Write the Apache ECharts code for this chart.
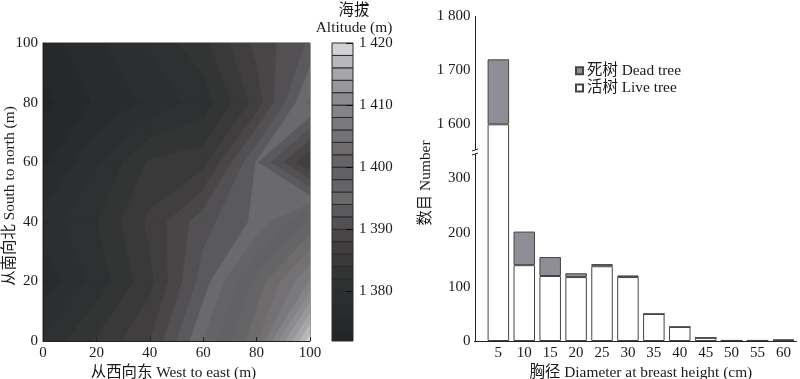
<!DOCTYPE html>
<html><head><meta charset="utf-8">
<style>html,body{margin:0;padding:0;background:#fff}#c{width:800px;height:379px}</style>
<script src="https://cdn.jsdelivr.net/npm/echarts@6/dist/echarts.min.js"></script>
</head><body><div id="c"></div>
<script>
const gridX=[0,20,40,60,80,100];
const gridY=[0,20,40,60,80,100];
const altRow0  =[1380.4,1384.25,1387.9,1396,1403.5,1419];
const altRow20 =[1376.8,1380.7,1385.4,1392.9,1400.7,1408.1];
const altRow40 =[1378.8,1381.9,1386.45,1391.2,1394.5,1400.3];
const altRow60 =[1375.5,1379.7,1384.3,1385.2,1394.1,1385.8];
const altRow80 =[1373.4,1376.3,1378.55,1380.8,1386.8,1396.5];
const altRow100=[1375,1377.5,1380.3,1383.4,1388.6,1392.3];
const altRows=[altRow0,altRow20,altRow40,altRow60,altRow80,altRow100];
const bandLevels=[1372,1374,1376,1378,1380,1382,1384,1386,1388,1390,1392,1394,1396,1398,1400,1402,1404,1406,1408,1410,1412,1414,1416,1418];
const bandColors=['#232528','#26282b','#292b2d','#2c2e2f','#2e3031','#333535','#393939','#403e3f','#494647','#525052','#5a5a5c','#6a6a6c','#646466','#626264','#656567','#6f6a6c','#737174','#7a7a7e','#848488','#8c8c90','#98989c','#a6a6aa','#b8b8bc','#d2d2d6'];
const diameterLabels=['5','10','15','20','25','30','35','40','45','50','55','60'];
const liveTrees=[1600,140,120,118,138,118,50,26,6,1,1,1];
const deadTrees=[120,62,35,7,4,3,0,0,0,0,0,2];
const ticksRight=[0,100,200,300,1600,1700,1800];
const ticksKey=[1380,1390,1400,1410,1420];
const fontF='"Liberation Serif","Noto Sans CJK SC",serif';
const spaced=v=>v>=1000?String(v).replace(/^(\d)/,'$1 '):String(v);

function clipCell(c,L){
  const out=[];
  for(let i=0;i<c.length;i++){
    const a=c[i],b=c[(i+1)%c.length];
    if(a[2]>=L)out.push([a[0],a[1]]);
    if((a[2]>=L)!==(b[2]>=L)){
      const t=(L-a[2])/(b[2]-a[2]);
      out.push([a[0]+t*(b[0]-a[0]),a[1]+t*(b[1]-a[1])]);
    }
  }
  return out;
}
function renderBand(params,api){
  const idx=params.dataIndex,L=bandLevels[idx],col=bandColors[idx],children=[];
  for(let j=0;j<gridY.length-1;j++)for(let i=0;i<gridX.length-1;i++){
    const cell=[[gridX[i],gridY[j],altRows[j][i]],[gridX[i+1],gridY[j],altRows[j][i+1]],[gridX[i+1],gridY[j+1],altRows[j+1][i+1]],[gridX[i],gridY[j+1],altRows[j+1][i]]];
    const poly=clipCell(cell,L);
    if(poly.length<3)continue;
    children.push({type:'polygon',shape:{points:poly.map(p=>api.coord(p))},style:{fill:col,stroke:col,lineWidth:1}});
  }
  return {type:'group',children};
}
function renderKey(params,api){
  const L=bandLevels[params.dataIndex];
  const p0=api.coord([0,L]),p1=api.coord([1,L+2]);
  return {type:'rect',shape:{x:p0[0],y:p1[1],width:p1[0]-p0[0],height:p0[1]-p1[1]},
    style:{fill:bandColors[params.dataIndex],stroke:'#2a2a2a',lineWidth:1}};
}
const txt={color:'#1a1a1a',fontFamily:fontF,fontSize:15};
const ttl={...txt,fontSize:15.4,fontWeight:'normal'};
const axLine={show:true,onZero:false,lineStyle:{color:'#222',width:1}};
const chart=echarts.init(document.getElementById('c'),null,{renderer:'canvas'});
chart.setOption({
  animation:false,
  backgroundColor:'#fff',
  textStyle:{fontFamily:fontF},
  title:[
    {text:'海拔',left:349,top:-2,textAlign:'center',textStyle:ttl},
    {text:'Altitude (m)',left:349,top:15,textAlign:'center',textStyle:ttl}
  ],
  grid:[
    {left:43,top:43,width:267,height:298,outerBoundsMode:'none',show:true,borderColor:'#333',borderWidth:1,backgroundColor:'transparent'},
    {left:332,top:43,width:21,height:298,outerBoundsMode:'none'},
    {left:485.4,top:16,width:311,height:325,outerBoundsMode:'none'}
  ],
  xAxis:[
    {gridIndex:0,type:'value',min:0,max:100,interval:20,name:'从西向东 West to east (m)',nameLocation:'middle',nameMoveOverlap:false,nameGap:24,nameTextStyle:{...ttl,padding:[0,6,0,0]},
     axisLine:axLine,axisTick:{inside:true,length:4,lineStyle:{color:'#222'}},axisLabel:{...txt,margin:5},splitLine:{show:false},z:5},
    {gridIndex:1,type:'value',min:0,max:1,show:false},
    {gridIndex:2,type:'category',data:diameterLabels,name:'胸径 Diameter at breast height (cm)',nameLocation:'middle',nameMoveOverlap:false,nameGap:24,nameTextStyle:ttl,
     axisLine:axLine,axisTick:{inside:true,length:5,alignWithLabel:true,lineStyle:{color:'#222'}},
     axisLabel:{...txt,margin:5,interval:0},splitLine:{show:false},z:5}
  ],
  yAxis:[
    {gridIndex:0,type:'value',min:0,max:100,interval:20,name:'从南向北 South to north (m)',nameLocation:'middle',nameMoveOverlap:false,nameGap:25,nameTextStyle:{...ttl,padding:[0,8,0,0]},
     axisLine:axLine,axisTick:{inside:true,length:4,lineStyle:{color:'#222'}},axisLabel:{...txt,margin:5},splitLine:{show:false},z:5},
    {gridIndex:1,type:'value',position:'right',min:1372,max:1420,
     axisLine:{show:false,onZero:false},
     axisTick:{inside:true,length:7,customValues:ticksKey,lineStyle:{color:'#111',width:1}},
     axisLabel:{...txt,margin:6,customValues:ticksKey,formatter:v=>spaced(v)},splitLine:{show:false},z:5},
    {gridIndex:2,type:'value',min:0,max:1800,offset:10,
     breaks:[{start:350,end:1550,gap:0}],breakArea:{show:false},
     name:'数目 Number',nameLocation:'middle',nameMoveOverlap:false,nameGap:42,nameTextStyle:{...ttl,padding:[0,9,0,0]},
     axisLine:axLine,axisTick:{inside:true,length:5,customValues:ticksRight,lineStyle:{color:'#222'}},
     axisLabel:{...txt,margin:5,customValues:ticksRight,hideOverlap:false,formatter:v=>spaced(v)},splitLine:{show:false},z:5}
  ],
  legend:{orient:'vertical',left:570,top:58,itemWidth:7,itemHeight:7,itemGap:2,icon:'rect',
    textStyle:{...txt,fontSize:15.4,padding:[0,0,0,-1]},data:['死树 Dead tree','活树 Live tree']},
  series:[
    {type:'custom',xAxisIndex:0,yAxisIndex:0,data:bandLevels.map(v=>[v]),renderItem:renderBand,clip:true,silent:true,encode:{}},
    {type:'custom',xAxisIndex:1,yAxisIndex:1,data:bandLevels.map(v=>[0,v]),renderItem:renderKey,silent:true,encode:{x:0,y:1}},
    {name:'活树 Live tree',type:'bar',stack:'n',xAxisIndex:2,yAxisIndex:2,barWidth:21.5,
     data:liveTrees,itemStyle:{color:'#fff',borderColor:'#444',borderWidth:1}},
    {name:'死树 Dead tree',type:'bar',stack:'n',xAxisIndex:2,yAxisIndex:2,barWidth:21.5,
     data:deadTrees,itemStyle:{color:'#8f8d95',borderColor:'#444',borderWidth:1}}
  ],
  graphic:[
    {type:'line',shape:{x1:474,y1:341.5,x2:486,y2:341.5},style:{stroke:'#222',lineWidth:1},z:51},
    {type:'rect',shape:{x:471,y:150,width:9,height:4},style:{fill:'#fff'},z:50},
    {type:'line',shape:{x1:472,y1:151,x2:478,y2:149},style:{stroke:'#222',lineWidth:1},z:51},
    {type:'line',shape:{x1:472,y1:155,x2:478,y2:153},style:{stroke:'#222',lineWidth:1},z:51}
  ]
});
</script></body></html>
